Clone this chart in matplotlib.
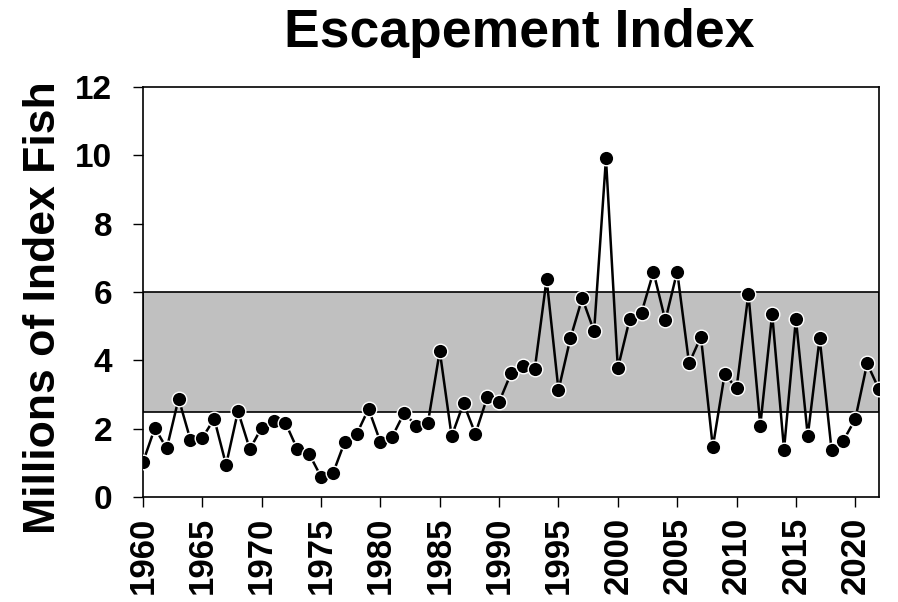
import matplotlib.pyplot as plt
import numpy as np

plt.rcParams['font.family'] = ['Liberation Sans', 'DejaVu Sans']

# escapement index, millions of fish, 1960-2022
years = np.arange(1960, 2023)
escapement = [1.02, 2.02, 1.42, 2.88, 1.67, 1.73, 2.29, 0.94, 2.51, 1.40,
              2.03, 2.21, 2.17, 1.40, 1.26, 0.59, 0.69, 1.62, 1.84, 2.58,
              1.61, 1.77, 2.46, 2.09, 2.17, 4.27, 1.78, 2.74, 1.85, 2.92,
              2.78, 3.62, 3.84, 3.74, 6.38, 3.13, 4.64, 5.82, 4.85, 9.91,
              3.77, 5.21, 5.40, 6.59, 5.17, 6.60, 3.91, 4.69, 1.46, 3.60,
              3.18, 5.95, 2.09, 5.36, 1.39, 5.21, 1.79, 4.65, 1.39, 1.65,
              2.28, 3.91, 3.15]
goal_low, goal_high = 2.5, 6.0
xticks = np.arange(1960, 2021, 5)
yticks = np.arange(0, 13, 2)

fig = plt.figure(figsize=(8.98, 6.02), dpi=100)
ax = fig.add_axes([143/898, 1 - 497/602, (879-143)/898, (497-87)/602])

# goal range band
ax.axhspan(goal_low, goal_high, facecolor='#c0c0c0', edgecolor='black', linewidth=1.2, zorder=1)

ax.plot(years, escapement, color='black', linewidth=1.8, zorder=2)
ax.plot(years, escapement, 'o', markersize=10.5, markerfacecolor='black',
        markeredgecolor='white', markeredgewidth=1.0, zorder=3)

ax.set_xlim(1960, 2022)
ax.set_ylim(0, 12)
ax.set_xticks(xticks)
ax.set_xticklabels([str(y) for y in xticks], rotation=90, fontsize=25, fontweight='bold')
ax.set_yticks(yticks)
ax.set_yticklabels([str(v) for v in yticks], fontsize=24, fontweight='bold')
ax.tick_params(direction='out', length=7, width=1)
ax.tick_params(axis='y', pad=15)
ax.tick_params(axis='x', pad=7)

for s in ax.spines.values():
    s.set_linewidth(1.2)

ax.set_ylabel('Millions of Index Fish', fontsize=32, fontweight='bold')
ax.yaxis.set_label_coords(-0.108, 0.463)
ax.set_title('Escapement Index', fontsize=38.5, fontweight='bold', pad=29, x=0.511)

fig.savefig('out.png', dpi=100)
